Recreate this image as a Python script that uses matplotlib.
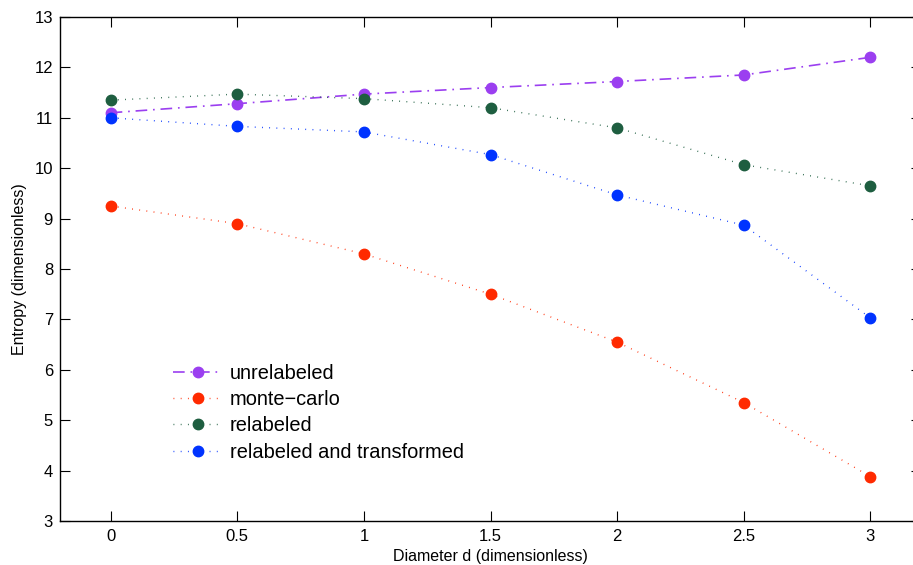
import matplotlib
matplotlib.use("Agg")
import matplotlib.pyplot as plt

diameter = [0, 0.5, 1, 1.5, 2, 2.5, 3]
unrelabeled = [11.1, 11.28, 11.47, 11.6, 11.72, 11.85, 12.2]
monte_carlo = [9.25, 8.9, 8.3, 7.5, 6.55, 5.35, 3.88]
relabeled = [11.35, 11.47, 11.38, 11.2, 10.8, 10.07, 9.65]
relabeled_transformed = [11.0, 10.83, 10.72, 10.27, 9.47, 8.87, 7.03]

plt.rcParams['font.family'] = ['Liberation Sans', 'DejaVu Sans']

fig = plt.figure(figsize=(9.13, 5.65), dpi=100)
# right spine sits just past the image edge, like the cropped original
ax = fig.add_axes([60/913, 44/565, 861/913, 504/565])

ms = 7.5
dot = (0.6, 4.6)
ax.plot(diameter, unrelabeled, color='#9b3ff0', marker='o', ms=ms, lw=1.2,
        dashes=(7, 3.5, 1, 3.5), label='unrelabeled')
ax.plot(diameter, monte_carlo, color='#ff2a00', marker='o', ms=ms, lw=1.0,
        dashes=dot, label='monte\u2212carlo')
ax.plot(diameter, relabeled, color='#1e5e40', marker='o', ms=ms, lw=1.0,
        dashes=dot, label='relabeled')
ax.plot(diameter, relabeled_transformed, color='#0033ff', marker='o', ms=ms, lw=1.0,
        dashes=dot, label='relabeled and transformed')

ax.set_xlim(-0.2, 3.2)
ax.set_ylim(3, 13)
ax.set_xticks(diameter)
ax.set_xticklabels(['0', '0.5', '1', '1.5', '2', '2.5', '3'])
ax.set_yticks(range(3, 14))
ax.tick_params(direction='in', length=7, width=0.8, top=True, right=True,
               labelsize=12)
ax.tick_params(axis='x', pad=6)
ax.tick_params(axis='y', pad=5)
for s in ax.spines.values():
    s.set_linewidth(1.0)

ax.set_xlabel('Diameter d (dimensionless)', fontsize=11.5, labelpad=3)
ax.set_ylabel('Entropy (dimensionless)', fontsize=11.5, labelpad=5)

ax.legend(loc='lower left', bbox_to_anchor=(0.131, 0.118), frameon=False,
          fontsize=14.4, handlelength=2.5, labelspacing=0.36, handletextpad=0.35,
          borderpad=0, borderaxespad=0)

fig.savefig('out.png', dpi=100)
